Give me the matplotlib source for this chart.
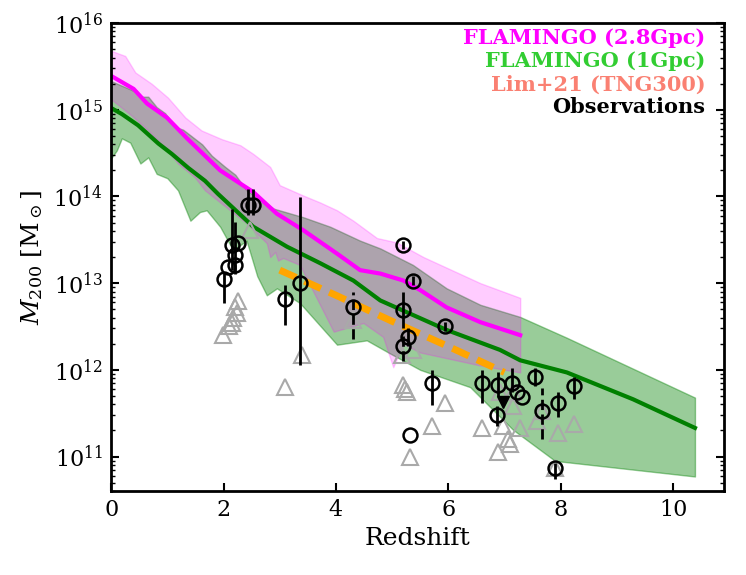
import numpy as np
import matplotlib.pyplot as plt

plt.rcParams['font.family'] = 'DejaVu Serif'
plt.rcParams['mathtext.fontset'] = 'dejavuserif'

# --- FLAMINGO (1Gpc): median + band, log10(M200) ---
z_1g = [0, 0.19, 0.48, 0.84, 1.08, 1.37, 1.67, 1.9, 2.53, 3.13, 3.72, 4.31, 4.79,
        5.97, 6.92, 7.28, 8.11, 9.29, 10.39]
med_1g = [15.02, 14.95, 14.82, 14.61, 14.49, 14.33, 14.18, 14.03, 13.65, 13.42, 13.23,
          13.03, 12.80, 12.46, 12.23, 12.11, 11.97, 11.66, 11.33]

zb_1g = [0, 0.1, 0.19, 0.34, 0.52, 0.66, 0.81, 1.0, 1.19, 1.41, 1.58, 1.7, 1.94, 2.17,
         2.41, 2.6, 2.77, 2.95, 3.36, 4.02, 4.55, 4.96, 5.5, 6.39, 7.15, 7.9, 10.39]
lo_1g = [14.44, 14.53, 14.67, 14.62, 14.38, 14.45, 14.26, 14.21, 14.07, 13.72, 13.82,
         13.84, 13.65, 13.38, 13.49, 13.08, 12.86, 12.94, 12.77, 12.29, 12.34, 12.19,
         12.0, 11.8, 11.31, 10.95, 10.77]
zu_1g = [0, 0.43, 0.55, 0.66, 0.81, 0.96, 1.14, 1.28, 1.44, 1.62, 1.79, 2.03, 2.21,
         2.41, 2.89, 3.42, 3.90, 4.43, 4.79, 5.37, 5.97, 6.57, 7.28, 8.11, 10.39]
hi_1g = [15.33, 15.21, 15.15, 15.15, 15.03, 14.96, 14.80, 14.77, 14.69, 14.60, 14.47,
         14.34, 14.25, 14.07, 13.86, 13.76, 13.65, 13.49, 13.40, 13.21, 12.94, 12.75,
         12.61, 12.37, 11.68]

# --- FLAMINGO (2.8Gpc) ---
z_28 = [0, 0.4, 0.64, 0.99, 1.35, 1.94, 2.53, 2.95, 3.42, 4.02, 4.43, 4.79, 5.2, 5.5,
        5.97, 6.57, 7.28]
med_28 = [15.39, 15.24, 15.07, 14.91, 14.67, 14.30, 14.05, 13.80, 13.61, 13.34, 13.15,
          13.11, 13.03, 12.92, 12.72, 12.55, 12.40]
zu_28 = [0, 0.25, 0.43, 0.72, 1.01, 1.32, 1.61, 1.97, 2.3, 2.53, 2.83, 3.0, 3.42, 3.72,
         4.02, 4.31, 4.73, 5.08, 5.56, 6.57, 7.28]
hi_28 = [15.68, 15.62, 15.43, 15.30, 15.14, 14.91, 14.76, 14.66, 14.59, 14.49, 14.34,
         14.13, 14.01, 13.93, 13.84, 13.72, 13.52, 13.47, 13.30, 13.0, 12.83]
zl_28 = [0, 0.37, 0.66, 0.96, 1.19, 1.49, 1.67, 2.41, 2.77, 2.83, 2.92, 2.97, 3.06,
         3.36, 3.6, 3.96, 4.49, 4.84, 5.02, 5.2, 5.5, 6.57, 7.28]
lo_28 = [15.12, 14.93, 14.76, 14.56, 14.38, 14.22, 14.07, 13.69, 13.46, 13.30, 13.36,
         13.26, 13.29, 13.21, 12.9, 12.44, 12.54, 12.38, 12.03, 12.3, 12.2, 12.05, 11.97]

# --- Lim+21 (TNG300) ---
z_lim = [3.0, 4.0, 5.0, 6.0, 7.0]
m_lim = [13.15, 12.86, 12.56, 12.27, 11.97]

# --- Observations: circles with error bars (log10 M) ---
obs_z = [2.0, 2.08, 2.2, 2.15, 2.26, 2.2, 2.44, 2.53, 3.1, 3.36, 5.2, 5.37, 5.2,
         5.28, 5.32, 5.94, 5.71, 6.6, 6.89, 6.86, 7.13, 7.22, 7.31, 7.54, 7.96,
         8.23, 7.9]
obs_m = [13.05, 13.19, 13.21, 13.44, 13.46, 13.32, 13.90, 13.90, 12.82, 13.0, 13.44,
         13.03, 12.69, 12.38, 11.25, 12.50, 11.85, 11.85, 11.83, 11.48, 11.85, 11.75,
         11.69, 11.92, 11.62, 11.81, 10.87]
obs_lo = [12.77, 13.19, 13.21, 13.15, 13.46, 13.1, 13.78, 13.78, 12.52, 12.06, 13.39,
          12.98, 12.48, 12.28, 11.25, 12.45, 11.6, 11.62, 11.7, 11.35, 11.75, 11.75,
          11.69, 11.81, 11.46, 11.66, 10.74]
obs_hi = [13.12, 13.19, 13.21, 13.86, 13.46, 13.7, 14.09, 14.09, 12.98, 13.99, 13.49,
          13.08, 12.90, 12.48, 11.25, 12.55, 12.0, 12.0, 11.97, 11.58, 12.02, 11.75,
          11.69, 12.02, 11.75, 11.92, 10.93]
# dashed error bars
dash_z = [4.31, 5.2, 7.66]
dash_m = [12.72, 12.27, 11.52]
dash_lo = [12.36, 12.10, 11.2]
dash_hi = [12.90, 12.40, 11.79]
lim_z = [6.98]
lim_m = [11.63]

# grey triangles
tri_z = [1.99, 2.09, 2.15, 2.17, 2.2, 2.26, 2.24, 2.47, 3.1, 3.39, 4.31, 5.17, 5.2, 5.23,
         5.27, 5.37, 5.32, 5.94, 5.71, 6.6, 6.92, 7.15, 7.15, 6.98, 7.06, 6.89, 7.28,
         7.57, 7.66, 7.96, 8.23, 7.9, 7.1]
tri_m = [12.40, 12.50, 12.54, 12.60, 12.73, 12.79, 12.66, 13.61, 11.80, 12.17, 12.57,
         12.17, 11.83, 11.78, 11.74, 12.23, 10.99, 11.62, 11.35, 11.33, 11.75, 11.75,
         11.58, 11.35, 11.2, 11.05, 11.33, 11.41, 11.52, 11.27, 11.37, 10.87, 11.14]


def p(a):
    return 10 ** np.asarray(a)


def band(zs, zl, lo, zh, hi):
    # interpolate edges in log space
    return p(np.interp(zs, zl, lo)), p(np.interp(zs, zh, hi))


fig = plt.figure(figsize=(7.46, 5.75), dpi=100)
ax = fig.add_axes([0.149, 0.146, 0.821, 0.814])

# green band first, then green median, then pink band over it
zg = np.unique(np.concatenate([zb_1g, zu_1g]))
lo, hi = band(zg, zb_1g, lo_1g, zu_1g, hi_1g)
ax.fill_between(zg, lo, hi, color='green', alpha=0.4, lw=1)
ax.plot(z_1g, p(med_1g), color='green', lw=3)

zp = np.unique(np.concatenate([zl_28, zu_28]))
lo, hi = band(zp, zl_28, lo_28, zu_28, hi_28)
ax.fill_between(zp, lo, hi, color='magenta', alpha=0.2, lw=1)
ax.plot(z_28, p(med_28), color='magenta', lw=3)

ax.plot(z_lim, p(m_lim), color='orange', lw=5, ls=(0, (2.6, 1.3)), zorder=4)

ax.plot(tri_z, p(tri_m), ls='none', marker='^', ms=11, mfc='none', mec='darkgrey',
        mew=1.5, zorder=3)

m = p(obs_m)
ax.errorbar(obs_z, m, yerr=[m - p(obs_lo), p(obs_hi) - m], fmt='o', ms=10,
            mfc='none', mec='black', mew=1.8, ecolor='black', elinewidth=2, zorder=5)
md = p(dash_m)
eb = ax.errorbar(dash_z, md, yerr=[md - p(dash_lo), p(dash_hi) - md], fmt='o', ms=10,
                 mfc='none', mec='black', mew=1.8, ecolor='black', elinewidth=2, zorder=5)
eb[2][0].set_linestyle('--')
ax.plot(lim_z, p(lim_m), ls='none', marker='v', ms=9, color='black', zorder=5)

ax.set_yscale('log')
ax.set_xlim(0, 10.9)
ax.set_ylim(4e10, 1e16)
ax.set_xlabel('Redshift', fontsize=18, labelpad=4)
ax.set_ylabel(r'$M_{200}$ [M$_\odot$]', fontsize=18, labelpad=6)
ax.tick_params(which='both', direction='in', right=True, labelsize=16, width=1.5)
ax.tick_params(which='major', length=6, pad=6)
ax.tick_params(which='minor', length=3, width=1)
for s in ax.spines.values():
    s.set_linewidth(2)

labels = ['FLAMINGO (2.8Gpc)', 'FLAMINGO (1Gpc)', 'Lim+21 (TNG300)', 'Observations']
colors = ['magenta', 'limegreen', 'salmon', 'black']
for i, (lab, c) in enumerate(zip(labels, colors)):
    ax.text(0.97, 0.968 - i * 0.0495, lab, color=c, fontsize=15, fontweight='bold',
            ha='right', va='center', transform=ax.transAxes)

fig.savefig('out.png', dpi=100)
